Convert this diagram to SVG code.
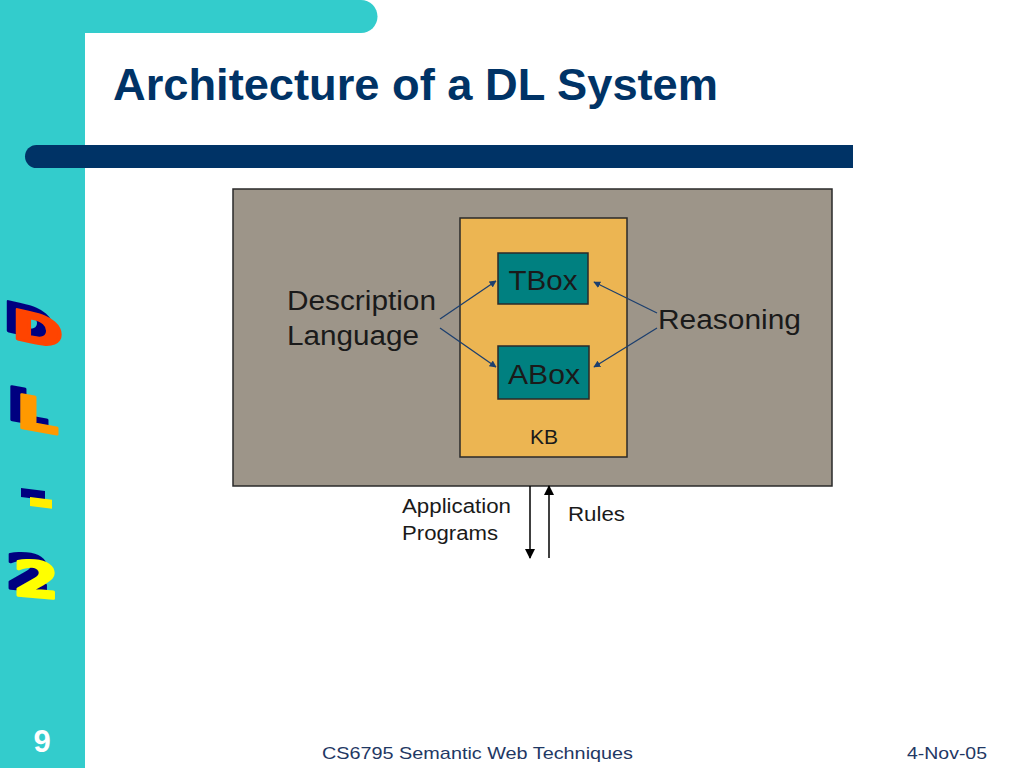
<svg xmlns="http://www.w3.org/2000/svg" width="1024" height="768" viewBox="0 0 1024 768">
<style>
.lbl{font-family:"Liberation Sans",Arial,sans-serif;fill:#1a1a1a}
.box{stroke:#2a2a2a;stroke-width:1.5}
.conn{stroke:#1c3f6e;stroke-width:1.3;fill:none}
.blk{stroke:#000;stroke-width:1.5;fill:none}
.side{font-family:"DejaVu Sans",sans-serif;font-weight:bold;stroke-width:2.5;stroke-linejoin:round}
.foot{font-family:"Liberation Sans",Arial,sans-serif;fill:#1f3864;font-size:17px}
</style>
<defs>
<marker id="ah" viewBox="0 0 10 10" refX="9" refY="5" markerWidth="7" markerHeight="7" orient="auto" markerUnits="userSpaceOnUse"><path d="M0,0 L10,5 L0,10 z" fill="#1c3f6e"/></marker>
<marker id="bh" viewBox="0 0 10 10" refX="9" refY="5" markerWidth="10" markerHeight="10" orient="auto" markerUnits="userSpaceOnUse"><path d="M0,0 L10,5 L0,10 z" fill="#000"/></marker>
</defs>
<rect width="1024" height="768" fill="#fff"/>
<g id="frame">
<rect x="0" y="0" width="85" height="768" fill="#33cccc"/>
<path d="M0,0 H361 A16.5,16.5 0 0 1 361,33 H0 z" fill="#33cccc"/>
<path d="M36.5,145 H853 V168 H36.5 A11.5,11.5 0 0 1 36.5,145 z" fill="#003366"/>
</g>
<text x="113" y="100" textLength="605" lengthAdjust="spacingAndGlyphs" style="font-family:'Liberation Sans',Arial,sans-serif;font-weight:bold;font-size:44px;fill:#003366">Architecture of a DL System</text>
<g id="sidebar">
<g transform="translate(3,330) skewY(13) scale(1.5,1)"><text class="side" font-size="41" fill="#000080" stroke="#000080">D</text></g>
<g transform="translate(12,338) skewY(13) scale(1.5,1)"><text class="side" font-size="41" fill="#ff4400" stroke="#ff4400">D</text></g>
<g transform="translate(6,419) skewY(10) scale(1.45,1)"><text class="side" font-size="46" fill="#000080" stroke="#000080">L</text></g>
<g transform="translate(16,427) skewY(10) scale(1.45,1)"><text class="side" font-size="46" fill="#ff9900" stroke="#ff9900">L</text></g>
<g transform="translate(21,488) skewY(7)"><rect x="0" y="0" width="24" height="9" fill="#000080"/></g>
<g transform="translate(30,497) skewY(7)"><rect x="0" y="0" width="22" height="9" fill="#ffee00"/></g>
<g transform="translate(5,588) skewY(5) scale(1.35,1)"><text class="side" font-size="49" fill="#000080" stroke="#000080">2</text></g>
<g transform="translate(13,595) skewY(5) scale(1.35,1)"><text class="side" font-size="49" fill="#ffff00" stroke="#ffff00">2</text></g>
</g>
<g id="system">
<rect x="233" y="189" width="599" height="297" fill="#9d9589" class="box"/>
</g>
<g id="kb">
<rect x="460" y="218" width="167" height="239" fill="#ecb552" class="box"/>
<text x="544" y="444" class="lbl" font-size="21" text-anchor="middle">KB</text>
</g>
<g id="tbox">
<rect x="498" y="253" width="90" height="51" fill="#008080" class="box"/>
<text x="543" y="290" class="lbl" font-size="28" text-anchor="middle" textLength="69" lengthAdjust="spacingAndGlyphs">TBox</text>
</g>
<g id="abox">
<rect x="498" y="346" width="91" height="53" fill="#008080" class="box"/>
<text x="544" y="384" class="lbl" font-size="28" text-anchor="middle" textLength="72" lengthAdjust="spacingAndGlyphs">ABox</text>
</g>
<g id="description-language">
<text x="287" y="310" class="lbl" font-size="27" textLength="149" lengthAdjust="spacingAndGlyphs">Description</text>
<text x="287" y="345" class="lbl" font-size="27" textLength="132" lengthAdjust="spacingAndGlyphs">Language</text>
</g>
<g id="reasoning">
<text x="658" y="329" class="lbl" font-size="27" textLength="143" lengthAdjust="spacingAndGlyphs">Reasoning</text>
</g>
<g id="application-programs">
<text x="402" y="513" class="lbl" font-size="20" textLength="109" lengthAdjust="spacingAndGlyphs">Application</text>
<text x="402" y="540" class="lbl" font-size="20" textLength="96" lengthAdjust="spacingAndGlyphs">Programs</text>
</g>
<g id="rules">
<text x="568" y="521" class="lbl" font-size="20" textLength="57" lengthAdjust="spacingAndGlyphs">Rules</text>
</g>
<g id="connectors">
<line x1="440" y1="319" x2="496" y2="281" class="conn" marker-end="url(#ah)"/>
<line x1="440" y1="328" x2="496" y2="367" class="conn" marker-end="url(#ah)"/>
<line x1="657" y1="313" x2="594" y2="282" class="conn" marker-end="url(#ah)"/>
<line x1="657" y1="328" x2="594" y2="367" class="conn" marker-end="url(#ah)"/>
<line x1="530" y1="486" x2="530" y2="558" class="blk" marker-end="url(#bh)"/>
<line x1="549" y1="558" x2="549" y2="486" class="blk" marker-end="url(#bh)"/>
</g>
<g id="footer">
<text x="42" y="752" text-anchor="middle" style="font-family:'Liberation Sans',Arial,sans-serif;font-weight:bold;font-size:31px;fill:#fff">9</text>
<text x="322" y="759" class="foot" textLength="311" lengthAdjust="spacingAndGlyphs">CS6795 Semantic Web Techniques</text>
<text x="907" y="759" class="foot" textLength="80" lengthAdjust="spacingAndGlyphs">4-Nov-05</text>
</g>
</svg>
